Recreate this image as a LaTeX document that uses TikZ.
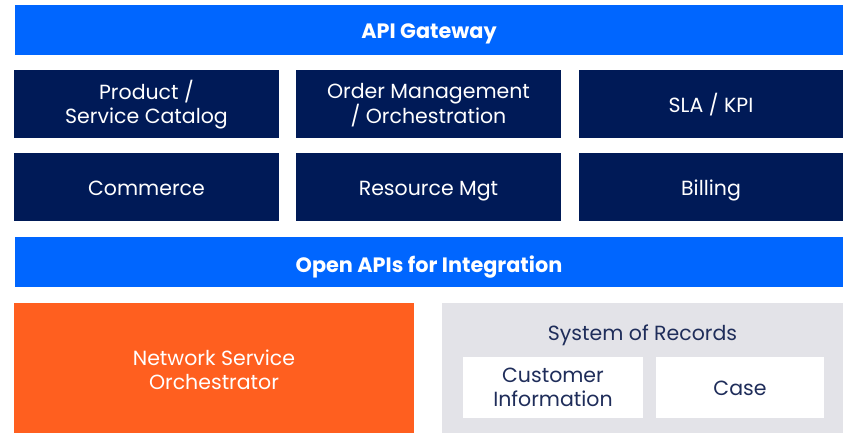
\documentclass[tikz,border=0pt]{standalone}
\usepackage{fontspec}
\setmainfont{Poppins}
\definecolor{apiblue}{HTML}{0066FF}
\definecolor{navy}{HTML}{001A57}
\definecolor{nsoorange}{HTML}{FF5F1F}
\definecolor{sorgray}{HTML}{E3E3E8}
\definecolor{inktext}{HTML}{1F2D5A}
\begin{document}
\begin{tikzpicture}[x=1pt,y=-1pt,
  bandtext/.style={font=\fontsize{20.8}{24}\selectfont\bfseries,text=white,anchor=base,inner sep=0pt},
  labeltext/.style={font=\fontsize{20.5}{24}\selectfont,align=center,anchor=base,inner sep=0pt},
  darklabel/.style={labeltext,text=inktext},
  lightlabel/.style={labeltext,text=white}]
\useasboundingbox (0,0) rectangle (844,433);
% top and middle bands
\fill[apiblue] (15,5) rectangle (843,55);
\node[bandtext] (gw) at (429,39) {API Gateway};
\fill[apiblue] (15,237) rectangle (843,287);
\node[bandtext] (oapi) at (429,272) {Open APIs for Integration};
% functional modules (two-line labels are placed by their last baseline)
\fill[navy] (14,70) rectangle (279,138);
\node[lightlabel] (cat) at (146.5,124) {Product /\\Service Catalog};
\fill[navy] (296,70) rectangle (561,138);
\node[lightlabel] (om) at (428.5,124) {Order Management\\/ Orchestration};
\fill[navy] (579,70) rectangle (843,138);
\node[lightlabel] (sla) at (711,113) {SLA / KPI};
\fill[navy] (14,153) rectangle (279,221);
\node[lightlabel] (com) at (146.5,196) {Commerce};
\fill[navy] (296,153) rectangle (561,221);
\node[lightlabel] (res) at (428.5,196) {Resource Mgt};
\fill[navy] (579,153) rectangle (843,221);
\node[lightlabel] (bill) at (711,196) {Billing};
% bottom row
\fill[nsoorange] (14,303) rectangle (414,433);
\node[lightlabel] (nsoc) at (214,389.5) {Network Service\\Orchestrator};
\fill[sorgray] (442,303) rectangle (843,433);
\node[darklabel] (sor) at (642.5,340) {System of Records};
\fill[white] (463,357) rectangle (643,418);
\node[darklabel] (cust) at (553,406.5) {Customer\\Information};
\fill[white] (656,357) rectangle (824,418);
\node[darklabel] (case) at (740,395) {Case};
\end{tikzpicture}
\end{document}
